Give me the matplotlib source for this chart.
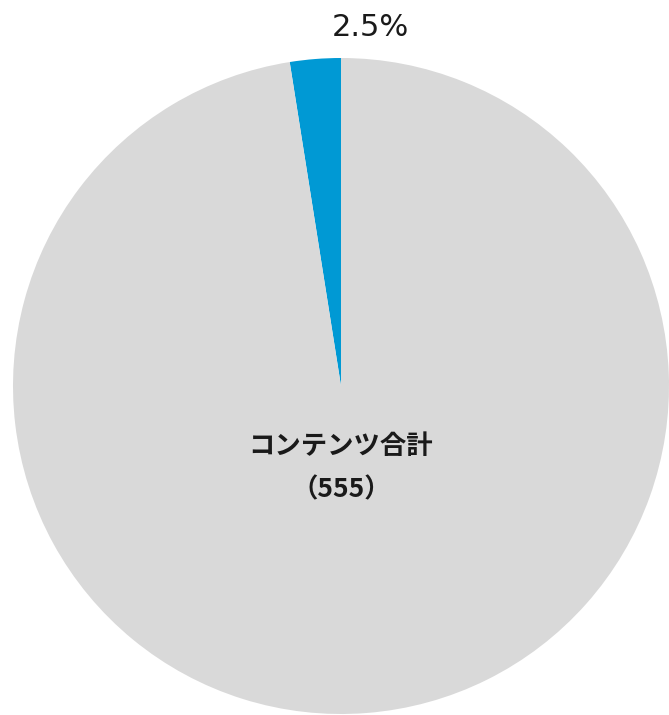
import matplotlib
matplotlib.use("Agg")
import matplotlib.pyplot as plt

plt.rcParams['font.family'] = ['Noto Sans CJK JP', 'DejaVu Sans']

# Share of content items
categories = ["その他", "コンテンツ合計"]
counts = [14, 555]
shares = [2.5, 97.5]
colors = ["#0099D4", "#D9D9D9"]

W, H = 669, 715
fig = plt.figure(figsize=(W / 100, H / 100), dpi=100)
ax = fig.add_axes([0, 0, 1, 1])

cx, cy, r = 341, H - 386, 328
ax.pie(shares, colors=colors, startangle=90, counterclock=True,
       center=(cx, cy), radius=r, frame=True,
       wedgeprops=dict(linewidth=0))
ax.set_xlim(0, W)
ax.set_ylim(0, H)
ax.set_aspect("equal")
ax.axis("off")

# Small-slice labels above the pie (the first one runs off the top edge)
ax.text(235, H + 4, f"{categories[0]} ({counts[0]})", ha="right",
        va="baseline", fontsize=22, color="#1a1a1a",
        family=["DejaVu Sans", "Noto Sans CJK JP"])
ax.text(370, H - 27, f"{shares[0]}%", ha="center", va="center",
        fontsize=22, color="#1a1a1a", family=["DejaVu Sans"])

# Main slice label
ax.text(cx, H - 446, categories[1], ha="center", va="center",
        fontsize=19, fontweight="bold", color="#1a1a1a")
ax.text(cx, H - 490, f"（{counts[1]}）", ha="center", va="center",
        fontsize=19, fontweight="bold", color="#1a1a1a")

fig.savefig("out.png", dpi=100)
